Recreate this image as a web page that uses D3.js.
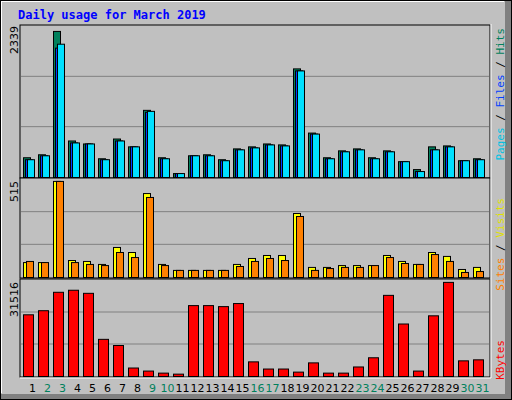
<!DOCTYPE html>
<html><head><meta charset="utf-8">
<script src="https://cdn.jsdelivr.net/npm/d3@7"></script>
<style>body{margin:0;background:#fff}</style>
</head><body><div id="chart"></div>
<script>
var days = d3.range(1, 32);
var weekends = [2, 3, 9, 10, 16, 17, 23, 24, 30, 31];
var hits  = [312,359,2308,577,530,296,608,484,1061,312,62,343,359,281,452,484,530,515,1716,702,312,421,452,312,421,250,125,484,499,265,296];
var files = [281,343,2044,546,530,281,577,484,1030,296,62,343,343,265,437,468,515,499,1684,686,296,406,437,296,406,250,94,437,484,265,281];
var pages = [281,343,2106,546,530,281,577,484,1045,296,62,343,343,265,437,468,515,499,1684,686,296,406,437,296,406,250,94,437,484,265,281];
var visits = [80,80,515,91,86,70,161,134,450,70,38,38,38,38,70,102,118,118,343,54,54,64,64,64,118,86,70,134,113,43,54];
var sites  = [86,80,515,80,70,64,134,107,429,64,38,38,38,38,59,86,102,91,327,38,48,54,54,64,107,75,70,123,86,27,32];
var kbytes = [20660,22030,28200,28880,27850,12440,10380,2840,1820,1130,790,23740,23740,23400,24430,4900,2500,2500,1470,4560,1130,1130,3190,6270,27170,17580,1820,20320,31516,5240,5580];
var maxHits = 2339, maxVisits = 515, maxKB = 31516;

var W = 512, H = 400;
var svg = d3.select("#chart").append("svg").attr("width", W).attr("height", H)
  .style("font-family", "DejaVu Sans Mono, monospace");

// outer frame with bevel
svg.append("rect").attr("x", 0).attr("y", 0).attr("width", W).attr("height", H).attr("fill", "#808080");
svg.append("rect").attr("x", 0).attr("y", 0).attr("width", W - 7).attr("height", H - 6).attr("fill", "#c0c0c0");
svg.append("path").attr("d", "M1,393 V1 H504").attr("stroke", "#fff").attr("stroke-width", 2).attr("fill", "none");
svg.append("rect").attr("x", 0.5).attr("y", 0.5).attr("width", W - 1).attr("height", H - 1)
  .attr("fill", "none").attr("stroke", "#000");

svg.append("text").attr("x", 18).attr("y", 19).attr("fill", "#0000ff")
  .attr("font-size", 12).attr("font-weight", "bold").text("Daily usage for March 2019");

var left = 20, right = 490;
var x = d3.scaleBand().domain(days).range([23, 488]).paddingInner(0);

var panels = [
  {top: 26, bottom: 177, max: maxHits},
  {top: 179, bottom: 277, max: maxVisits},
  {top: 280, bottom: 376, max: maxKB}
];

panels.forEach(function(p) {
  svg.append("rect").attr("x", left).attr("y", p.top - 1).attr("width", right - left)
    .attr("height", p.bottom - p.top + 2).attr("fill", "#c0c0c0")
    .attr("stroke", "#000").attr("stroke-width", 1);
  var h = p.bottom - p.top;
  [1, 2].forEach(function(k) {
    svg.append("line").attr("x1", left + 1).attr("x2", right - 1)
      .attr("y1", p.bottom - h * k / 3).attr("y2", p.bottom - h * k / 3)
      .attr("stroke", "#808080");
  });
  p.y = d3.scaleLinear().domain([0, p.max * 1.02]).range([p.bottom, p.top]);
});
svg.append("path").attr("d", "M" + (right + 1) + ",24 V378 H" + left).attr("stroke", "#fff").attr("fill", "none");

function bars(data, y, off, w, color) {
  svg.append("g").selectAll("rect").data(data).enter().append("rect")
    .attr("x", (d, i) => x(days[i]) + off + 0.5)
    .attr("y", d => y(d) + 0.5)
    .attr("width", w)
    .attr("height", d => Math.max(0, y.range()[0] - y(d)))
    .attr("fill", color).attr("stroke", "#000").attr("stroke-width", 1);
}
bars(hits, panels[0].y, 0, 7, "#00805c");
bars(files, panels[0].y, 2, 7, "#0040ff");
bars(pages, panels[0].y, 4, 7, "#00e0ff");
bars(visits, panels[1].y, 0, 7, "#ffff00");
bars(sites, panels[1].y, 3, 7, "#ff8000");
bars(kbytes, panels[2].y, 0, 10, "#ff0000");

// max labels
[[maxHits, 26], [maxVisits, 181], [maxKB, 282]].forEach(function(m) {
  svg.append("text").attr("transform", "translate(18," + m[1] + ") rotate(-90)")
    .attr("text-anchor", "end").attr("font-size", 11).attr("fill", "#000")
    .style("font-family", "DejaVu Sans, sans-serif").text(m[0]);
});

// right legends, reading bottom-up
function legend(parts, yTop) {
  var t = svg.append("text").attr("transform", "translate(504," + yTop + ") rotate(-90)")
    .attr("font-size", 11).attr("text-anchor", "end");
  parts.forEach(function(p) { t.append("tspan").attr("fill", p[1]).text(p[0]); });
}
legend([["Pages", "#00c0e0"], [" / ", "#000"], ["Files", "#0040ff"], [" / ", "#000"], ["Hits", "#00805c"]], 28);
legend([["Sites", "#ff8000"], [" / ", "#000"], ["Visits", "#e0e000"]], 198);
legend([["KBytes", "#ff0000"]], 340);

// day labels
var xAxis = svg.append("g").attr("transform", "translate(0,392)");
xAxis.selectAll("text").data(days).enter().append("text")
  .attr("x", d => x(d) + x.bandwidth() / 2 + 2)
  .attr("y", 0).attr("text-anchor", "middle").attr("font-size", 11)
  .style("font-family", "DejaVu Sans, sans-serif")
  .attr("fill", d => weekends.indexOf(d) >= 0 ? "#00805c" : "#000")
  .text(d => d);
</script></body></html>
